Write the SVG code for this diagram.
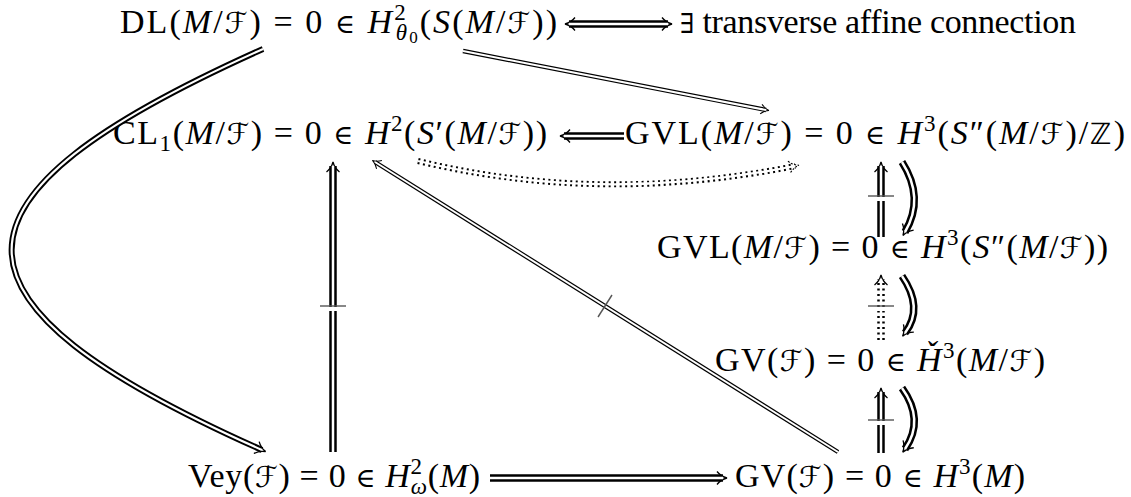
<svg xmlns="http://www.w3.org/2000/svg" width="1131" height="497" viewBox="0 0 1131 497">
<defs>
<style>
.t{font-family:"Liberation Serif","Times New Roman",serif;font-size:34px;fill:#000}
.i{font-style:italic}
.c{font-family:"DejaVu Sans","DejaVu Serif",sans-serif;font-style:normal;font-size:29px}
.e{font-family:"DejaVu Serif","DejaVu Sans",serif;font-style:normal;font-size:27px}
.s{font-size:23px}
.ss{font-size:17px}
.ob{fill:none;stroke:#000;stroke-width:7.5}
.ib{fill:none;stroke:#fff;stroke-width:2.5}
.oc{fill:none;stroke:#000;stroke-width:6}
.ic{fill:none;stroke:#fff;stroke-width:2.2}
.ot{fill:none;stroke:#000;stroke-width:4.4}
.wt{fill:none;stroke:#fff;stroke-width:2}
.dot{stroke-dasharray:2 3.5}
.neg{stroke:#555;stroke-width:1.4;fill:none}
</style>
<marker id="hb" markerUnits="userSpaceOnUse" viewBox="-10 -10 20 20" markerWidth="20" markerHeight="20" refX="0" refY="0" orient="auto-start-reverse" overflow="visible">
<path d="M -6 -6.5 Q -2 -1.5 4 0 Q -2 1.5 -6 6.5" fill="none" stroke="#000" stroke-width="1.3"/>
</marker>
<marker id="ht" markerUnits="userSpaceOnUse" viewBox="-10 -10 20 20" markerWidth="20" markerHeight="20" refX="0" refY="0" orient="auto" overflow="visible">
<path d="M -5 -5 Q -1.5 -1 3 0 Q -1.5 1 -5 5" fill="none" stroke="#000" stroke-width="1"/>
</marker>
<marker id="hd" markerUnits="userSpaceOnUse" viewBox="-10 -10 20 20" markerWidth="20" markerHeight="20" refX="0" refY="0" orient="auto" overflow="visible">
<path d="M -6 -6 Q -2 -1.5 4 0 Q -2 1.5 -6 6" fill="none" stroke="#000" stroke-width="1.1" stroke-dasharray="2 1.5"/>
</marker>
</defs>

<g id="n-dl"><text class="t" x="120" y="33" textLength="437" lengthAdjust="spacing">DL(<tspan class="i">M</tspan>/<tspan class="c">ℱ</tspan>) = 0 <tspan class="e">∈</tspan> <tspan class="i">H</tspan><tspan class="s" dy="-13">2</tspan><tspan class="s i" dx="-12" dy="20">θ</tspan><tspan class="ss" dy="3">0</tspan><tspan dy="-10">(</tspan><tspan class="i">S</tspan>(<tspan class="i">M</tspan>/<tspan class="c">ℱ</tspan>))</text></g>

<g id="n-conn"><text class="t" x="680" y="33" textLength="396" lengthAdjust="spacing"><tspan class="e">∃</tspan> transverse affine connection</text></g>

<g id="n-cl1"><text class="t" x="113" y="144" textLength="434" lengthAdjust="spacing">CL<tspan class="s" dy="7">1</tspan><tspan dy="-7">(</tspan><tspan class="i">M</tspan>/<tspan class="c">ℱ</tspan>) = 0 <tspan class="e">∈</tspan> <tspan class="i">H</tspan><tspan class="s" dy="-13">2</tspan><tspan dy="13">(</tspan><tspan class="i">S</tspan>′(<tspan class="i">M</tspan>/<tspan class="c">ℱ</tspan>))</text></g>

<g id="n-gvlz"><text class="t" x="625" y="144" textLength="500" lengthAdjust="spacing">GVL(<tspan class="i">M</tspan>/<tspan class="c">ℱ</tspan>) = 0 <tspan class="e">∈</tspan> <tspan class="i">H</tspan><tspan class="s" dy="-13">3</tspan><tspan dy="13">(</tspan><tspan class="i">S</tspan>″(<tspan class="i">M</tspan>/<tspan class="c">ℱ</tspan>)/<tspan class="c">ℤ</tspan>)</text></g>

<g id="n-gvl"><text class="t" x="657" y="258" textLength="451" lengthAdjust="spacing">GVL(<tspan class="i">M</tspan>/<tspan class="c">ℱ</tspan>) = 0 <tspan class="e">∈</tspan> <tspan class="i">H</tspan><tspan class="s" dy="-13">3</tspan><tspan dy="13">(</tspan><tspan class="i">S</tspan>″(<tspan class="i">M</tspan>/<tspan class="c">ℱ</tspan>))</text></g>

<g id="n-gvcech"><text class="t" x="715" y="371" textLength="330" lengthAdjust="spacing">GV(<tspan class="c">ℱ</tspan>) = 0 <tspan class="e">∈</tspan> <tspan class="i">Ȟ</tspan><tspan class="s" dy="-13">3</tspan><tspan dy="13">(</tspan><tspan class="i">M</tspan>/<tspan class="c">ℱ</tspan>)</text></g>

<g id="n-vey"><text class="t" x="188" y="487" textLength="292" lengthAdjust="spacing">Vey(<tspan class="c">ℱ</tspan>) = 0 <tspan class="e">∈</tspan> <tspan class="i">H</tspan><tspan class="s" dy="-13">2</tspan><tspan class="s i" dx="-12" dy="20">ω</tspan><tspan dy="-7">(</tspan><tspan class="i">M</tspan>)</text></g>

<g id="n-gvm"><text class="t" x="735" y="487" textLength="290" lengthAdjust="spacing">GV(<tspan class="c">ℱ</tspan>) = 0 <tspan class="e">∈</tspan> <tspan class="i">H</tspan><tspan class="s" dy="-13">3</tspan><tspan dy="13">(</tspan><tspan class="i">M</tspan>)</text></g>

<g id="connectors">
<path class="ob" d="M569 24 H668" marker-start="url(#hb)" marker-end="url(#hb)"/>
<path class="ib" d="M569 24 H668"/>

<path class="oc" d="M263 49 C-72 199 -72 301 262 450" marker-end="url(#hb)"/>
<path class="ic" d="M263 49 C-72 199 -72 301 262 450"/>

<path class="ot" d="M463 51 L766 110" marker-end="url(#ht)"/>
<path class="wt" d="M463 51 L766 110"/>

<path class="ob" d="M624 136 H564" marker-end="url(#hb)"/>
<path class="ib" d="M624 136 H564"/>

<path class="oc dot" d="M418 161 Q600 205 795 166" marker-end="url(#hd)"/>
<path class="ic" d="M418 161 Q600 205 795 166"/>

<path class="ob" d="M333 452 V166" marker-end="url(#hb)"/>
<path class="ib" d="M333 452 V166"/>
<rect x="327" y="307" width="12" height="4" fill="#fff"/>
<path class="neg" d="M320 306 H346"/>

<path class="ot" d="M838 452 L375 162" marker-end="url(#ht)"/>
<path class="wt" d="M838 452 L375 162"/>
<path class="neg" d="M598 317 L612 295" stroke="#333"/>

<path class="ob" d="M881 237 V166" marker-end="url(#hb)"/>
<path class="ib" d="M881 237 V166"/>
<rect x="875" y="197" width="12" height="4" fill="#fff"/>
<path class="neg" d="M868 196 H894"/>
<path class="ob" d="M902 162 Q925 198 905 232" marker-end="url(#hb)"/>
<path class="ib" d="M902 162 Q925 198 905 232"/>

<path class="ob dot" d="M881 340 V279" marker-end="url(#hb)"/>
<path class="ib" d="M881 340 V279"/>
<rect x="875" y="307" width="12" height="4" fill="#fff"/>
<path class="neg" d="M868 306 H894"/>
<path class="ob" d="M902 276 Q924 308 905 333" marker-end="url(#hb)"/>
<path class="ib" d="M902 276 Q924 308 905 333"/>

<path class="ob" d="M881 453 V392" marker-end="url(#hb)"/>
<path class="ib" d="M881 453 V392"/>
<rect x="875" y="421" width="12" height="4" fill="#fff"/>
<path class="neg" d="M868 420 H894"/>
<path class="ob" d="M902 388 Q925 420 905 449" marker-end="url(#hb)"/>
<path class="ib" d="M902 388 Q925 420 905 449"/>

<path class="ob" d="M490 478 H723" marker-end="url(#hb)"/>
<path class="ib" d="M490 478 H723"/>
</g>
</svg>
